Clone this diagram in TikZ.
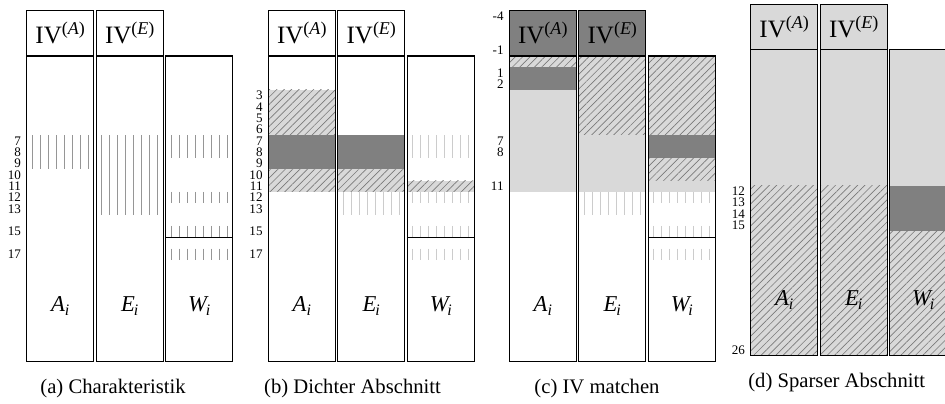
\documentclass[tikz,border=0pt]{standalone}
\usepackage{fontspec}
\setmainfont{Liberation Serif}
\usetikzlibrary{patterns.meta}

\definecolor{darkcell}{HTML}{808080}
\definecolor{lightcell}{HTML}{D9D9D9}
\definecolor{hatchline}{HTML}{7A7A7A}
\definecolor{tickdark}{HTML}{969696}
\definecolor{ticklight}{HTML}{CCCCCC}

\tikzset{
  colbox/.style={draw=black, line width=0.8pt},
  darkfill/.style={fill=darkcell},
  lightfill/.style={fill=lightcell},
  hatchfill/.style={fill=lightcell,
    postaction={pattern={Lines[angle=45,distance=3.9pt,line width=0.5pt]},
                pattern color=hatchline}},
  tickdk/.style={draw=tickdark, line width=0.65pt},
  ticklt/.style={draw=ticklight, line width=0.65pt},
  rowlabel/.style={anchor=east, inner sep=0pt,
    font=\fontsize{9.8}{9.8}\selectfont},
  hdrtext/.style={inner sep=0pt, font=\fontsize{18.75}{18.75}\selectfont},
  coltext/.style={inner sep=0pt, font=\fontsize{17}{17}\selectfont},
  captext/.style={inner sep=0pt, font=\fontsize{15.5}{15.5}\selectfont},
}

% IV with a parenthesised italic superscript
\newcommand\ivhead[1]{IV\raisebox{6.8pt}{\fontsize{13.5}{13.5}\selectfont(\textit{#1})}}
% italic letter with italic subscript, #3 = kern before the subscript
\newcommand\colname[3]{\textit{#1}\kern#3\raisebox{-3pt}{\fontsize{12}{12}\selectfont\textit{#2}}}
% fill rows #2..#3 of the column whose left edge is #1
\newcommand\cellrange[4]{\fill[#4] (#1,#2) rectangle ({#1+67},{#3+1});}
% eight short vertical strokes over rows #2..#3
\newcommand\tickrange[4]{\foreach \k in {0,...,7}
  {\draw[#4] ({#1+5.5+8*\k},#2) -- ({#1+5.5+8*\k},{#3+1});}}
% the three column outlines and the column names
\newcommand\columns{%
  \draw[colbox] (0,0) rectangle (67,27);
  \draw[colbox] (69.5,0) rectangle (136.5,27);
  \draw[colbox] (139,0) rectangle (206,27);
  \node[coltext] (nA) at (33.5,22.1) {\colname{A}{i}{0pt}};
  \node[coltext] (nE) at (103,22.1) {\colname{E}{i}{-0.8pt}};
  \node[coltext] (nW) at (172.5,22.1) {\colname{W}{i}{-2.2pt}};}
% the two header boxes above A and E, filled with #1
\newcommand\headers[1]{%
  \draw[colbox, fill=#1] (0,-4) rectangle (67,0);
  \draw[colbox, fill=#1] (69.5,-4) rectangle (136.5,0);
  \node[hdrtext] (hA) at (33.5,-2) {\ivhead{A}};
  \node[hdrtext] (hE) at (103,-2) {\ivhead{E}};}
\newcommand\rowlabels[1]{\foreach \r in {#1}
  {\node[rowlabel] at (-5.5,{\r+0.5}) {\r};}}

\begin{document}
\begin{tikzpicture}[x=0.75pt,y=-0.75pt]
\useasboundingbox (0,0) rectangle (945,403);
\clip (0,0) rectangle (945,403);

% (a) Charakteristik
\begin{scope}[shift={(26.7,56)}, y=-8.4975pt]
  \tickrange{0}{7}{9}{tickdk}
  \tickrange{69.5}{7}{13}{tickdk}
  \tickrange{139}{7}{8}{tickdk}
  \tickrange{139}{12}{12}{tickdk}
  \tickrange{139}{15}{15}{tickdk}
  \tickrange{139}{17}{17}{tickdk}
  \draw[colbox] (139,16) -- (206,16);
  \columns
  \headers{white}
  \rowlabels{7,8,9,10,11,12,13,15,17}
\end{scope}
\node[captext] (capa) at (113,389) {(a) Charakteristik};

% (b) Dichter Abschnitt
\begin{scope}[shift={(268.3,56)}, y=-8.4975pt]
  \cellrange{0}{3}{6}{hatchfill}
  \cellrange{0}{7}{9}{darkfill}
  \cellrange{0}{10}{11}{hatchfill}
  \cellrange{69.5}{7}{9}{darkfill}
  \cellrange{69.5}{10}{11}{hatchfill}
  \tickrange{69.5}{12}{13}{ticklt}
  \tickrange{139}{7}{8}{ticklt}
  \cellrange{139}{11}{11}{hatchfill}
  \tickrange{139}{12}{12}{ticklt}
  \tickrange{139}{15}{15}{ticklt}
  \tickrange{139}{17}{17}{ticklt}
  \draw[colbox] (139,16) -- (206,16);
  \columns
  \headers{white}
  \rowlabels{3,4,5,6,7,8,9,10,11,12,13,15,17}
\end{scope}
\node[captext] (capb) at (352.5,389) {(b) Dichter Abschnitt};

% (c) IV matchen
\begin{scope}[shift={(509.3,56)}, y=-8.4975pt]
  \cellrange{0}{0}{0}{hatchfill}
  \cellrange{0}{1}{2}{darkfill}
  \cellrange{0}{3}{11}{lightfill}
  \cellrange{69.5}{0}{6}{hatchfill}
  \cellrange{69.5}{7}{11}{lightfill}
  \tickrange{69.5}{12}{13}{ticklt}
  \cellrange{139}{0}{6}{hatchfill}
  \cellrange{139}{7}{8}{darkfill}
  \cellrange{139}{9}{10}{hatchfill}
  \cellrange{139}{11}{11}{lightfill}
  \tickrange{139}{12}{12}{ticklt}
  \tickrange{139}{15}{15}{ticklt}
  \tickrange{139}{17}{17}{ticklt}
  \draw[colbox] (139,16) -- (206,16);
  \columns
  \headers{darkcell}
  \rowlabels{-4,-1,1,2,7,8,11}
\end{scope}
\node[captext] (capc) at (597,389) {(c) IV matchen};

% (d) Sparser Abschnitt
\begin{scope}[shift={(750.7,49.7)}, y=-8.4975pt]
  \cellrange{0}{0}{11}{lightfill}
  \cellrange{0}{12}{26}{hatchfill}
  \cellrange{69.5}{0}{11}{lightfill}
  \cellrange{69.5}{12}{26}{hatchfill}
  \cellrange{139}{0}{11}{lightfill}
  \cellrange{139}{12}{15}{darkfill}
  \cellrange{139}{16}{26}{hatchfill}
  \columns
  \headers{lightcell}
  \rowlabels{12,13,14,15,26}
\end{scope}
\node[captext] (capd) at (836.7,383) {(d) Sparser Abschnitt};
\end{tikzpicture}
\end{document}
